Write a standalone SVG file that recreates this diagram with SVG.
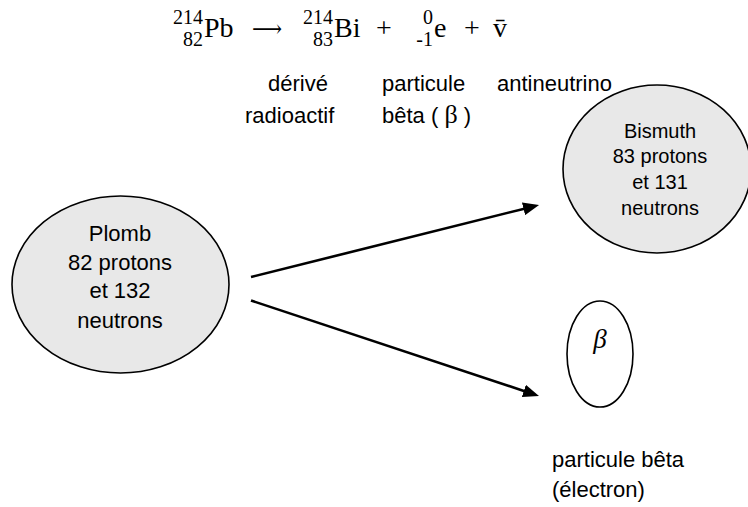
<svg xmlns="http://www.w3.org/2000/svg" width="748" height="507" viewBox="0 0 748 507">
<style>
.eq{font-family:"Liberation Serif","DejaVu Serif",serif;font-size:28px;fill:#000}
.sc{font-family:"Liberation Serif","DejaVu Serif",serif;font-size:20px;fill:#000}
.lbl{font-family:"Liberation Sans","Noto Sans",sans-serif;font-size:22px;fill:#000}
.nl{font-family:"Liberation Sans","Noto Sans",sans-serif;font-size:22px;fill:#000;text-anchor:middle}
.nb{font-family:"Liberation Sans","Noto Sans",sans-serif;font-size:20px;fill:#000;text-anchor:middle}
.nucleus{fill:#e8e8e8;stroke:#000;stroke-width:1.6}
.part{fill:#fff;stroke:#000;stroke-width:1.6}
.conn{stroke:#000;stroke-width:2.6;fill:none;marker-end:url(#ah)}
</style>
<defs>
<marker id="ah" markerUnits="userSpaceOnUse" viewBox="0 0 16 13" refX="4" refY="6.5" markerWidth="16" markerHeight="13" orient="auto">
<path d="M0,0 L16,6.5 L0,13 Z" fill="#000"/>
</marker>
</defs>

<g id="equation">
<text class="sc" x="203" y="24" text-anchor="end">214</text>
<text class="sc" x="203" y="45.5" text-anchor="end">82</text>
<text class="eq" x="204" y="37">Pb</text>
<text class="eq" x="252" y="37" textLength="30" lengthAdjust="spacingAndGlyphs" style="font-family:'DejaVu Serif',serif;font-size:24px">⟶</text>
<text class="sc" x="333" y="24" text-anchor="end">214</text>
<text class="sc" x="333" y="45.5" text-anchor="end">83</text>
<text class="eq" x="334" y="37">Bi</text>
<text class="eq" x="384" y="37" text-anchor="middle">+</text>
<text class="sc" x="433" y="24" text-anchor="end">0</text>
<text class="sc" x="433" y="45.5" text-anchor="end">-1</text>
<text class="eq" x="434" y="37">e</text>
<text class="eq" x="472" y="37" text-anchor="middle">+</text>
<text class="eq" x="493" y="37">v̄</text>
</g>

<g id="labels">
<text class="lbl" x="268" y="91">dérivé</text>
<text class="lbl" x="245" y="123">radioactif</text>
<text class="lbl" x="382" y="91">particule</text>
<text class="lbl" x="382" y="123">bêta ( <tspan style="font-family:'Liberation Serif',serif;font-size:26px">β</tspan> )</text>
<text class="lbl" x="497" y="91">antineutrino</text>
</g>

<g id="plomb">
<ellipse class="nucleus" cx="120.5" cy="284.5" rx="108.5" ry="88.5"/>
<text class="nl" x="120" y="241">Plomb</text>
<text class="nl" x="120" y="270">82 protons</text>
<text class="nl" x="120" y="298">et 132</text>
<text class="nl" x="120" y="328">neutrons</text>
</g>

<g id="bismuth">
<ellipse class="nucleus" cx="657" cy="169" rx="94" ry="84"/>
<text class="nb" x="660" y="138">Bismuth</text>
<text class="nb" x="660" y="163">83 protons</text>
<text class="nb" x="660" y="189">et 131</text>
<text class="nb" x="660" y="215">neutrons</text>
</g>

<g id="beta">
<ellipse class="part" cx="600" cy="354" rx="33" ry="53"/>
<text x="600" y="348" text-anchor="middle" style="font-family:'Liberation Serif',serif;font-style:italic;font-size:27px">β</text>
</g>

<g id="beta-label">
<text class="lbl" x="552" y="467">particule bêta</text>
<text class="lbl" x="552" y="497">(électron)</text>
</g>

<g id="connectors">
<line class="conn" x1="251" y1="277" x2="527.4" y2="207.9"/>
<line class="conn" x1="251" y1="300.5" x2="527.6" y2="392.2"/>
</g>
</svg>
